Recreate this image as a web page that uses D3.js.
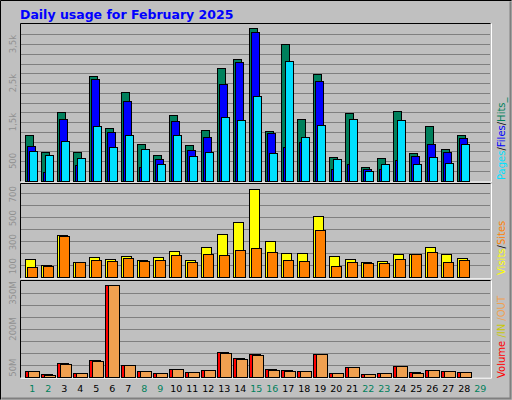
<!DOCTYPE html><html><head><meta charset="utf-8">
<script src="https://cdn.jsdelivr.net/npm/d3@7"></script>
<style>body{margin:0;background:#fff}</style></head><body><svg id="c" width="512" height="400"></svg>
<script>
const days=d3.range(1,30);
const weekend=[1,2,8,9,15,16,22,23,29];
const hits=[1159,723,1748,723,2671,1338,2269,928,646,1671,902,1287,2876,3107,3902,1261,3492,1569,2722,595,1723,338,569,1774,697,1390,800,1159];
const files=[877,210,1569,390,2594,1236,2038,338,544,1518,774,1108,2466,3030,3800,1210,851,980,2543,287,415,287,287,518,620,928,723,1082];
const pages=[749,646,1005,569,1390,851,1159,800,415,1159,620,723,1620,1543,2159,697,3056,1108,1415,544,1569,236,415,1543,415,595,441,928];
const visits=[150,100,350,125,167,150,175,142,167,217,142,250,358,458,733,300,200,200,508,175,150,125,133,192,192,250,192,158];
const sites=[83,92,342,125,142,133,158,133,142,183,125,192,183,225,242,208,142,133,392,92,125,117,117,150,192,208,125,142];
const volIn=[24,11,58,15,70,382,49,24,15,32,20,28,104,79,96,32,28,24,96,15,41,11,15,45,20,28,24,20];
const volOut=[24,7,53,15,66,382,49,24,15,32,20,28,100,74,91,28,24,24,96,15,41,11,15,45,15,28,24,20];
const t1=[500,1500,2500,3500], t1L=["500","1,5k","2,5k","3,5k"];
const t2=[100,300,500,700];
const t3=[50,200,350], t3L=["50M","200M","350M"];

const svg=d3.select("#c");
svg.append("rect").attr("width",512).attr("height",400).attr("fill","#c0c0c0");
svg.append("path").attr("d","M0.5,399.5V0.5H511.5").attr("stroke","#000").attr("fill","none");
svg.append("path").attr("d","M1.5,398.5H510.5V1.5").attr("stroke","#808080").attr("stroke-width",2).attr("fill","none");
svg.append("text").attr("x",20).attr("y",19).attr("fill","#0000ff").attr("font-family","DejaVu Sans, Liberation Sans, sans-serif").attr("font-weight","bold").attr("font-size",12.5).text("Daily usage for February 2025");

const x=d3.scaleLinear().domain([1,30]).range([25.3,489.3]);
const font="DejaVu Sans, Liberation Sans, sans-serif";
function panel(y0,y1,max,gstep,ticks,labels,labOff,anchor){
  const y=d3.scaleLinear().domain([0,max]).range([y1,y0]);
  const g=svg.append("g");
  for(let v=gstep; v<max; v+=gstep){ if(y(v)>y0+2) g.append("line").attr("x1",21).attr("x2",490).attr("y1",Math.round(y(v))+0.5).attr("y2",Math.round(y(v))+0.5).attr("stroke","#808080");}
  g.append("path").attr("d",`M20.5,${y1+1}V${y0-1.5}H490.5`).attr("stroke","#000").attr("fill","none");
  g.append("path").attr("d",`M20.5,${y1+1.5}H491.5V${y0-1.5}`).attr("stroke","#fff").attr("fill","none");
  ticks.forEach((v,i)=>{const yy=y(v)+labOff;
    g.append("text").attr("transform",`translate(16,${yy}) rotate(-90)`).attr("text-anchor",anchor).attr("fill","#909090").attr("font-family",font).attr("font-size",8.5).text(labels[i]);});
  return y;
}
function bars(y,data,color,off,w){
  svg.append("g").selectAll("rect").data(data).join("rect")
   .attr("x",(d,i)=>Math.round(x(i+1))+off+0.5).attr("y",d=>Math.round(y(d))+0.5)
   .attr("width",w).attr("height",d=>Math.max(0,Math.round(y(0))-Math.round(y(d))))
   .attr("fill",color).attr("stroke","#000");
}
const y1=panel(25,180.5,3990,250,t1,t1L,0,"middle");
bars(y1,hits,"#00805c",0,8);
bars(y1,files,"#0000ff",2,8);
bars(y1,pages,"#00e0ff",4,8);
const y2=panel(185,277.3,770,100,t2,t2.map(String),9,"start");
bars(y2,visits,"#ffff00",0,10);
bars(y2,sites,"#ff8000",2,10);
const y3=panel(282,376.7,395,50,t3,t3L,12,"start");
bars(y3,volIn,"#ff0000",0,11);
bars(y3,volOut,"#f0a050",3,11);

svg.append("g").selectAll("text").data(days).join("text")
 .attr("x",d=>x(d)+7).attr("y",392).attr("text-anchor","middle").attr("font-family",font).attr("font-size",9.5)
 .attr("fill",d=>weekend.includes(d)?"#00805c":"#000").text(d=>d);

function legend(yStart,parts){
  const t=svg.append("text").attr("transform",`translate(505,${yStart}) rotate(-90)`).attr("font-family",font).attr("font-size",10);
  parts.forEach(([s,c])=>t.append("tspan").attr("fill",c).text(s));
}
legend(180,[["Pages","#00e0ff"],["/","#000"],["Files","#0000ff"],["/","#000"],["Hits_","#00805c"]]);
legend(275,[["Visits","#ffff00"],["/","#000"],["Sites","#ff8000"]]);
legend(378,[["Volume","#ff0000"],[" /IN","#c8c800"],[" /OUT","#f0a050"]]);
</script></body></html>
